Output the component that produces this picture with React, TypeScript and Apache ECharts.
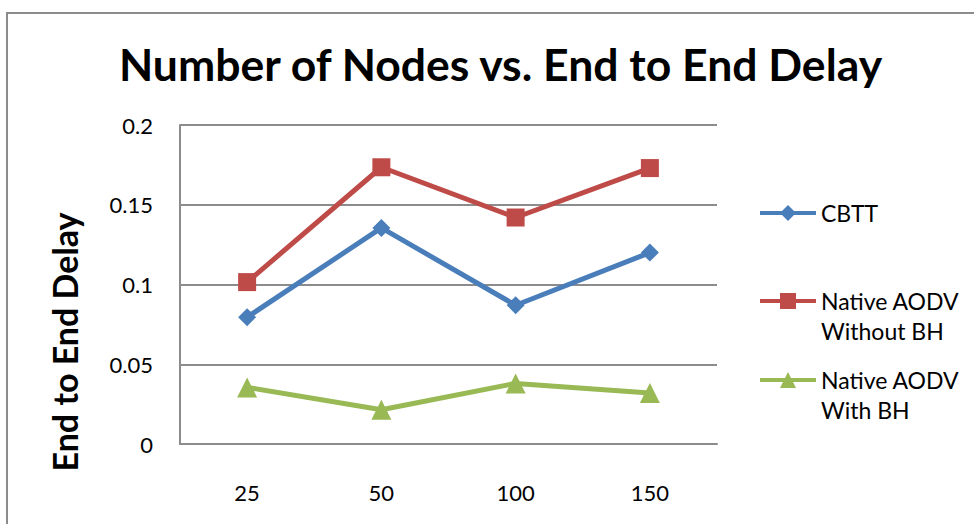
import React, { useEffect, useRef } from "react";
import * as echarts from "echarts";

const categories = ["25", "50", "100", "150"];
const seriesNames = ["CBTT", "Native AODV\nWithout BH", "Native AODV\nWith BH"];
const cbtt = [0.0795, 0.1355, 0.087, 0.12];
const withoutBH = [0.1015, 0.1735, 0.142, 0.173];
const withBH = [0.0355, 0.0215, 0.038, 0.032];
const yTicks = { min: 0, max: 0.2, interval: 0.05 };
const title = "Number of Nodes vs. End to End Delay";
const yName = "End to End Delay";

const colors = ["#4a7ebb", "#be4b48", "#98b954"];
const symbols = ["diamond", "rect", "triangle"];
const symbolSizes = [18, 18, 20];
const FONT = "Lato";

export default function App() {
  const ref = useRef<HTMLDivElement>(null);
  useEffect(() => {
    const chart = echarts.init(ref.current!, null, { renderer: "svg" });
    const datas = [cbtt, withoutBH, withBH];
    const legendTops = [193, 251, 330];
    chart.setOption({
      animation: false,
      backgroundColor: "#ffffff",
      textStyle: { fontFamily: FONT },
      title: {
        text: title,
        left: 114,
        top: 36,
        textStyle: { fontFamily: FONT, fontWeight: "bold", fontSize: 44.5, color: "#000" },
      },
      grid: { left: 180, right: 257, top: 125, bottom: 80 },
      legend: seriesNames.map((n, i) => ({
        data: [n],
        orient: "vertical",
        left: 753,
        top: legendTops[i],
        itemWidth: 56,
        itemHeight: 20,
        itemGap: 8,
        lineStyle: { width: 4 },
        formatter: (name: string) => (name.includes("\n") ? "\u00a0\n" + name : name),
        textStyle: {
          fontFamily: FONT,
          fontSize: 23,
          color: "#000",
          lineHeight: 30,
        },
      })),
      xAxis: {
        type: "category",
        data: categories,
        boundaryGap: true,
        axisLine: { lineStyle: { color: "#8c8c8c", width: 2 } },
        axisTick: { show: false },
        axisLabel: { margin: 37, fontSize: 22, color: "#000", fontFamily: FONT },
        splitLine: { show: false },
      },
      yAxis: {
        type: "value",
        min: yTicks.min,
        max: yTicks.max,
        interval: yTicks.interval,
        axisLine: { show: true, lineStyle: { color: "#8c8c8c", width: 2 } },
        axisTick: { show: false },
        axisLabel: { margin: 27, fontSize: 22, color: "#000", fontFamily: FONT },
        splitLine: { lineStyle: { color: "#8c8c8c", width: 2 } },
      },
      graphic: [
        {
          type: "polyline",
          shape: { points: [[7, 524], [7, 13], [974, 13]] },
          style: { stroke: "#8c8c8c", lineWidth: 2, fill: "none" },
          silent: true,
        },
        {
          type: "text",
          x: 64,
          y: 342,
          rotation: Math.PI / 2,
          style: {
            text: yName,
            fontFamily: FONT,
            fontWeight: "bold",
            fontSize: 34,
            fill: "#000",
            align: "center",
            verticalAlign: "middle",
          },
        },
      ],
      series: seriesNames.map((n, i) => ({
        name: n,
        type: "line",
        data: datas[i],
        symbol: symbols[i],
        symbolSize: symbolSizes[i],
        showAllSymbol: true,
        lineStyle: { color: colors[i], width: 5 },
        itemStyle: { color: colors[i] },
      })),
    });
    return () => chart.dispose();
  }, []);
  return (
    <div
      ref={ref}
      style={{ position: "fixed", left: 0, top: 0, width: 974, height: 524 }}
    />
  );
}
